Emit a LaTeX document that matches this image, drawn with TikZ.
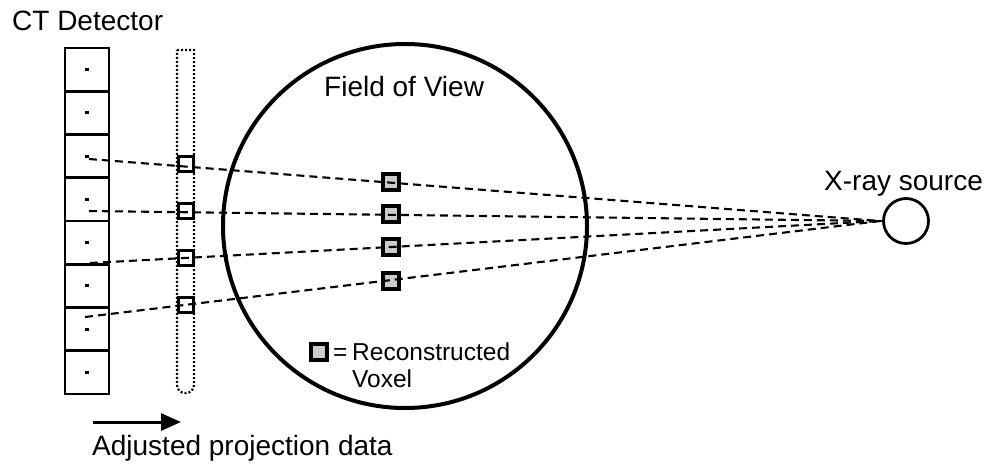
\documentclass[tikz,border=0pt]{standalone}
\usepackage{fontspec}
\setmainfont{Liberation Sans}
\usetikzlibrary{arrows.meta}
\begin{document}
\begin{tikzpicture}[x=1pt,y=-1pt,
  cell/.style={draw, line width=2.6pt, minimum width=44pt, minimum height=43.25pt, inner sep=0pt, outer sep=0pt},
  pix/.style={fill=black, minimum size=3.2pt, inner sep=0pt},
  adjsq/.style={draw, line width=2.6pt, fill=white, minimum size=15pt, inner sep=0pt},
  voxel/.style={draw, line width=3.4pt, fill=black!20, minimum size=16pt, inner sep=0pt},
  ray/.style={line width=2.1pt, dash pattern=on 8pt off 5pt},
  lbl/.style={inner sep=0pt, font=\fontsize{28}{33}\selectfont},
  slbl/.style={inner sep=0pt, font=\fontsize{24.5}{28}\selectfont}
]
\useasboundingbox (0,0) rectangle (992,467);

% labels
\node[lbl, anchor=base west] (ctlbl) at (12,30) {CT Detector};
\node[lbl, anchor=base west] (fovlbl) at (324,96) {Field of View};
\node[lbl, anchor=base west] (xlbl) at (824,190) {X-ray source};
\node[lbl, anchor=base west] (adjlbl) at (92,455) {Adjusted projection data};

% detector cells
\foreach \i in {1,...,8}{
  \node[cell] (cell\i) at (87,{48+43.25*(\i-0.5)}) {};
  \node[pix] (dot\i) at (cell\i.center) {};
}

% adjusted projection column (dotted)
\draw[line width=2.2pt, dash pattern=on 2pt off 2pt]
  (177,50) -- (194,50) {[rounded corners=8pt] -- (194,393) -- (177,393)} -- cycle;

% field of view
\node[draw, circle, line width=4pt, minimum size=364pt, inner sep=0pt] (fov) at (405,226) {};

% x-ray source
\node[draw, circle, line width=2.8pt, minimum size=45pt, inner sep=0pt] (src) at (906,221) {};
\coordinate (focus) at (880,221);

% ray start points
\coordinate (r1) at (89,159);
\coordinate (r2) at (89,211);
\coordinate (r3) at (90,263);
\coordinate (r4) at (85,317);

% adjusted data squares
\node[adjsq] (a1) at (186,164) {};
\node[adjsq] (a2) at (186,211) {};
\node[adjsq] (a3) at (186,258) {};
\node[adjsq] (a4) at (186,305) {};

% voxels
\node[voxel] (v1) at (391,182) {};
\node[voxel] (v2) at (391,214) {};
\node[voxel] (v3) at (391,247) {};
\node[voxel] (v4) at (391,281) {};

% rays
\foreach \i in {1,...,4}{
  \draw[ray] (r\i) -- (focus);
}
\draw[line width=2.2pt] (focus) -- (src.west);

% legend
\node[voxel] (legsq) at (319,352) {};
\node[slbl, anchor=base west] (eq) at (333,360) {=};
\node[slbl, anchor=base west] (rec) at (352,360) {Reconstructed};
\node[slbl, anchor=base west] (vox) at (352,387) {Voxel};

% arrow
\coordinate (arrA) at (93,422);
\coordinate (arrB) at (181,422);
\draw[line width=3pt, -{Triangle[length=20pt,width=17pt]}] (arrA) -- (arrB);
\end{tikzpicture}
\end{document}
